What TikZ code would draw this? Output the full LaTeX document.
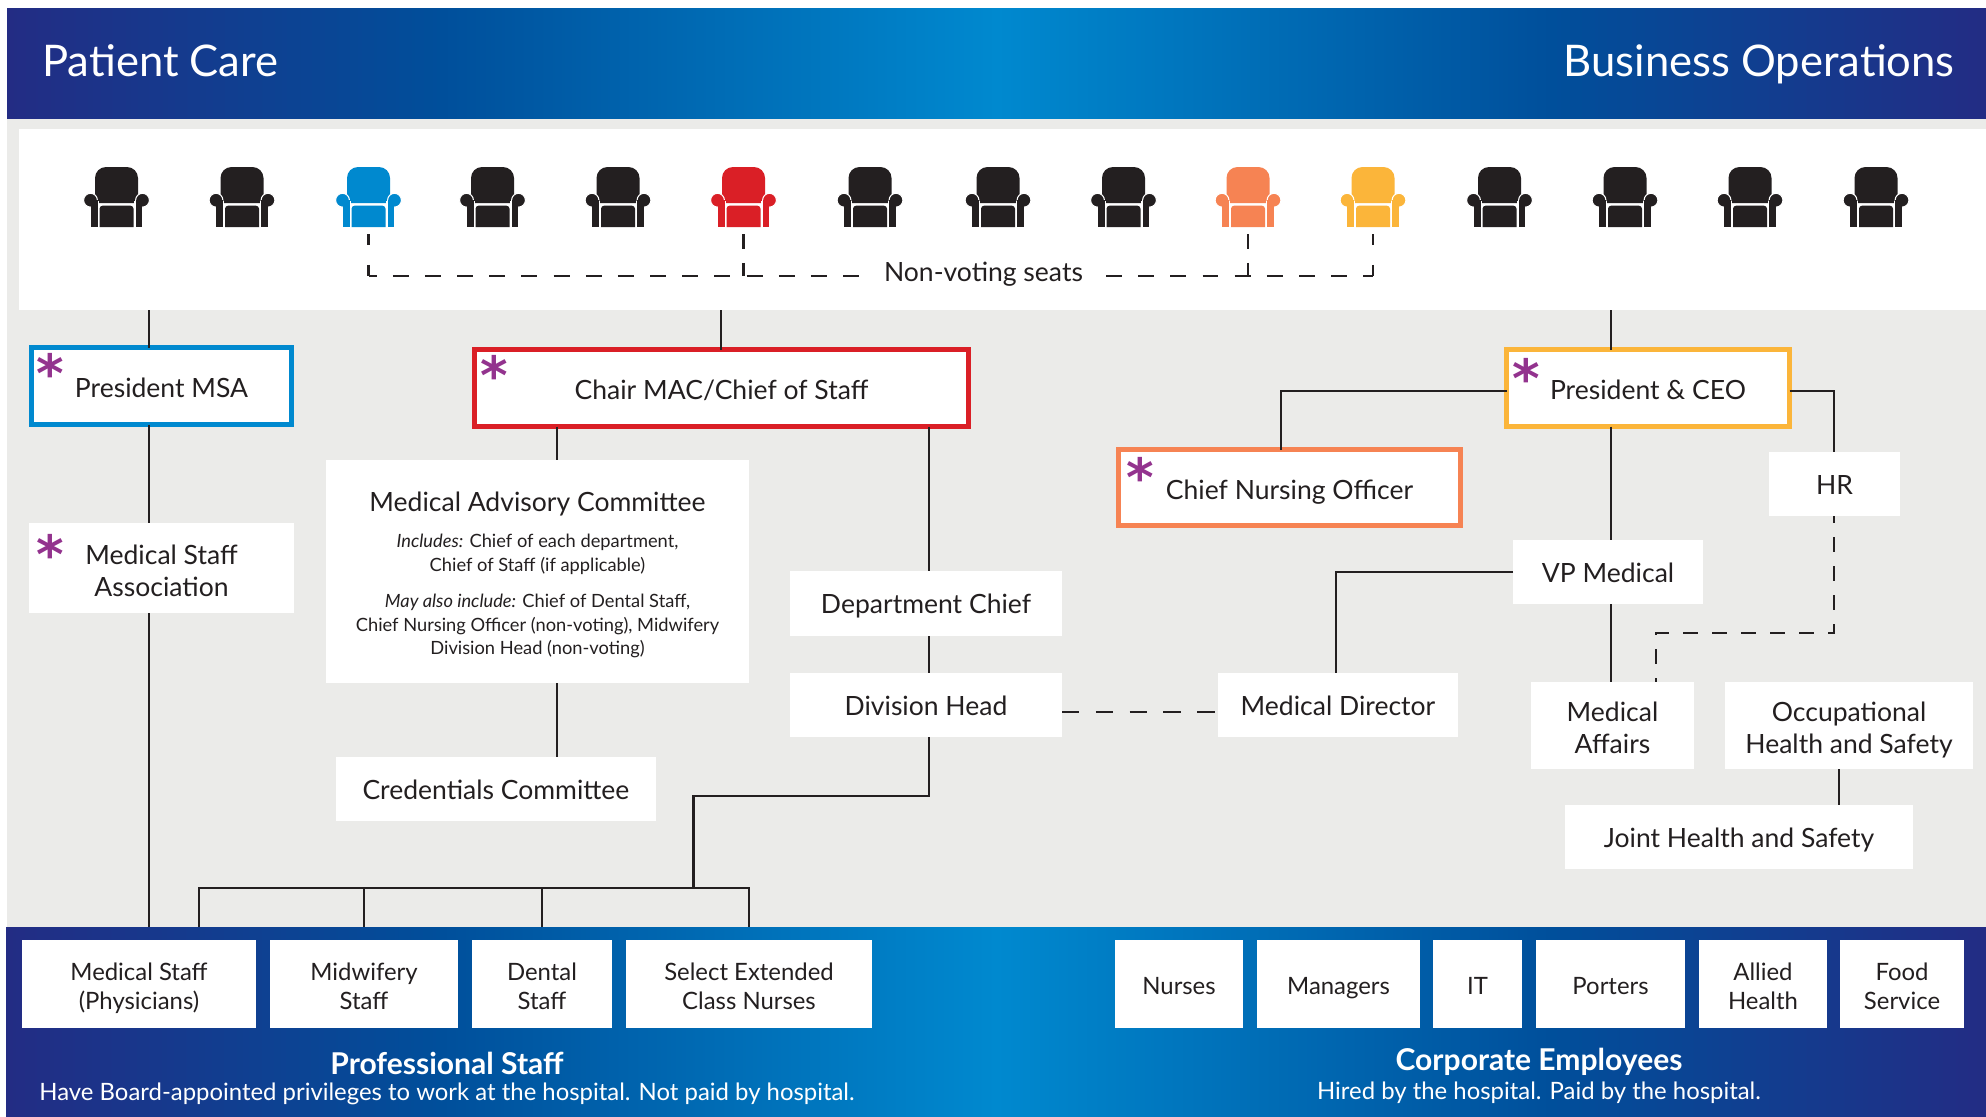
\documentclass[tikz,border=0pt]{standalone}
\usepackage{fontspec}
\usepackage{xcolor}
\setmainfont{Lato}
\newfontfamily\starfont{DejaVu Sans}
\definecolor{bandA}{HTML}{232C84}
\definecolor{bandB}{HTML}{004F9B}
\definecolor{bandC}{HTML}{0089CF}
\definecolor{wallgray}{HTML}{EBEBE9}
\definecolor{inkblack}{HTML}{231F20}
\definecolor{seatblue}{HTML}{0089CF}
\definecolor{seatred}{HTML}{DA1F26}
\definecolor{seatcoral}{HTML}{F68353}
\definecolor{seatamber}{HTML}{FBB53A}
\definecolor{starpurple}{HTML}{93338E}
\pgfdeclarehorizontalshading{bandshade}{100bp}{color(0bp)=(bandA); color(25bp)=(bandA); color(36bp)=(bandB); color(50bp)=(bandC); color(64bp)=(bandB); color(75bp)=(bandA); color(100bp)=(bandA)}
\newcommand{\macsmall}{\fontsize{10.4}{13.6}\selectfont}
\newcommand{\bandhead}{\fontsize{24.8}{28}\selectfont}
\tikzset{
	wh/.style 2 args={minimum width=#1*0.02cm, minimum height=#2*0.02cm, inner sep=0pt, outer sep=0pt},
	whitebox/.style={fill=white, text=inkblack, align=center, font=\fontsize{15.1}{18.3}\selectfont},
	staffbox/.style={fill=white, text=inkblack, align=center, font=\fontsize{13.6}{16.5}\selectfont},
	oneline/.style={text height=11.6pt, text depth=0pt},
	framedline/.style={text height=13.4pt, text depth=0pt, line width=2.8pt},
	twoline/.style={text height=32.4pt, text depth=0pt},
	stafftwo/.style={text height=28.6pt, text depth=0pt},
	link/.style={draw=inkblack, line width=1.6pt},
	dashlink/.style={draw=inkblack, line width=1.6pt, dash pattern=on 9.07pt off 9.24pt},
	seatlink/.style={draw=inkblack, line width=1.6pt, dash pattern=on 6pt off 11.5pt on 7pt off 9pt},
	seatlinkb/.style={draw=inkblack, line width=1.6pt, dash pattern=on 8.4pt off 8pt on 8pt off 9pt},
	divlink/.style={draw=inkblack, line width=1.6pt, dash pattern=on 9.9pt off 9.35pt},
	hrlink/.style={draw=inkblack, line width=1.6pt, dash pattern=on 8.5pt off 8pt, dash phase=4.3pt},
	bandtext/.style={text=white, inner sep=0pt},
	star/.style={text=starpurple, inner sep=0pt, font=\starfont\bfseries\fontsize{30}{30}\selectfont}
}
% one armchair, #1 name, #2 x, #3 colour
\newcommand{\seatchair}[3]{
	\coordinate (#1) at (#2,197);
	\begin{scope}[shift={(#2,197)}]
		\fill [#3] (-21.5,6) [rounded corners=0.22cm] -- (-21.5,-30) -- (21.5,-30) [sharp corners] -- (21.5,6) -- cycle;
		\fill [#3] (-17,30) [rounded corners=0.06cm] -- (-17,8.7) -- (17,8.7) [sharp corners] -- (17,30) -- cycle;
		\foreach \sgn in {-1,1} {
			\fill [white] (\sgn*19,4) rectangle (\sgn*17.7,30);
			\filldraw [#3, draw=white, line width=0.6pt] (\sgn*26,3.2) circle (6.9);
			\fill [#3] (\sgn*19,3) rectangle (\sgn*25.7,30);
		}
	\end{scope}
}
\begin{document}
\begin{tikzpicture}[x=0.02cm, y=-0.02cm]
	\useasboundingbox (0,0) rectangle (1986,1116);
	% bands and panels
	\node [wh={1979}{809}, fill=wallgray, anchor=north west] (wall) at (7,118) {};
	\node [wh={1979}{110}, shading=bandshade, anchor=north west] (topband) at (7,8) {};
	\node [wh={1980}{189}, shading=bandshade, anchor=north west] (bottomband) at (6,927) {};
	\node [wh={1967}{181}, fill=white, anchor=north west] (seatpanel) at (19,129) {};
	\node [bandtext, anchor=base west, font=\bandhead] (patientcare) at (42,76) {Patient Care};
	\node [bandtext, anchor=base east, font=\bandhead] (businessops) at (1955,76) {Business Operations};

	% seats
	\seatchair{seata}{116.5}{inkblack}
	\seatchair{seatb}{242}{inkblack}
	\seatchair{seatc}{368.5}{seatblue}
	\seatchair{seatd}{492.5}{inkblack}
	\seatchair{seate}{618}{inkblack}
	\seatchair{seatf}{743.5}{seatred}
	\seatchair{seatg}{870}{inkblack}
	\seatchair{seath}{998}{inkblack}
	\seatchair{seati}{1123.5}{inkblack}
	\seatchair{seatj}{1248}{seatcoral}
	\seatchair{seatk}{1373}{seatamber}
	\seatchair{seatl}{1499.5}{inkblack}
	\seatchair{seatm}{1625}{inkblack}
	\seatchair{seatn}{1750}{inkblack}
	\seatchair{seato}{1876}{inkblack}
	\node [text=inkblack, inner sep=0pt, font=\fontsize{15.1}{18}\selectfont] (nonvoting) at (983.5,274.5) {Non-voting seats};

	% boxes
	\node [whitebox, framedline, wh={260}{77}, draw=seatblue] (presmsa) at (161.5,386) {President MSA};
	\node [whitebox, framedline, wh={494}{77}, draw=seatred] (chairmac) at (721.5,388) {Chair MAC/Chief of Staff};
	\node [whitebox, framedline, wh={283}{77}, draw=seatamber] (ceo) at (1648,388) {President \& CEO};
	\node [whitebox, framedline, wh={342}{76}, draw=seatcoral] (cno) at (1289.5,487.5) {Chief Nursing Officer};
	\node [whitebox, twoline, wh={265}{90}] (msassoc) at (161.5,568) {Medical Staff\\Association};
	\node [whitebox, font=\macsmall, text height=95pt, text depth=0pt, wh={423}{223}] (mac) at (537.5,571.5) {{\fontsize{15.1}{18}\selectfont Medical Advisory Committee}\\[6.8pt]
		{\itshape Includes:} Chief of each department,\\
		Chief of Staff (if applicable)\\[6.8pt]
		{\itshape May also include:} Chief of Dental Staff,\\
		Chief Nursing Officer (non-voting), Midwifery\\
		Division Head (non-voting)};
	\node [whitebox, oneline, wh={320}{64}] (credentials) at (496,789) {Credentials Committee};
	\node [whitebox, oneline, wh={272}{65}] (deptchief) at (926,603.5) {Department Chief};
	\node [whitebox, oneline, wh={272}{64}] (divhead) at (926,705) {Division Head};
	\node [whitebox, oneline, wh={240}{64}] (meddir) at (1338,705) {Medical Director};
	\node [whitebox, oneline, wh={190}{64}] (vpmed) at (1608,572) {VP Medical};
	\node [whitebox, oneline, wh={131}{64}] (hr) at (1834.5,484) {HR};
	\node [whitebox, twoline, wh={163}{87}] (medaffairs) at (1612.5,725.5) {Medical\\Affairs};
	\node [whitebox, twoline, wh={248}{87}] (occhealth) at (1849,725.5) {Occupational\\Health and Safety};
	\node [whitebox, oneline, wh={348}{64}] (joint) at (1739,837) {Joint Health and Safety};

	% staff boxes
	\node [staffbox, stafftwo, wh={234}{88}] (medstaff) at (139,984) {Medical Staff\\(Physicians)};
	\node [staffbox, stafftwo, wh={188}{88}] (midwifery) at (364,984) {Midwifery\\Staff};
	\node [staffbox, stafftwo, wh={140}{88}] (dental) at (542,984) {Dental\\Staff};
	\node [staffbox, stafftwo, wh={246}{88}] (extended) at (749,984) {Select Extended\\Class Nurses};
	\node [staffbox, oneline, wh={128}{88}] (nurses) at (1179,984) {Nurses};
	\node [staffbox, oneline, wh={163}{88}] (managers) at (1338.5,984) {Managers};
	\node [staffbox, oneline, wh={89}{88}] (itstaff) at (1477.5,984) {IT};
	\node [staffbox, oneline, wh={149}{88}] (porters) at (1610.5,984) {Porters};
	\node [staffbox, stafftwo, wh={128}{88}] (allied) at (1763,984) {Allied\\Health};
	\node [staffbox, stafftwo, wh={124}{88}] (food) at (1902,984) {Food\\Service};
	\node [bandtext, font=\bfseries\fontsize{17.1}{20}\selectfont] (profstaff) at (447,1063) {Professional Staff};
	\node [bandtext, font=\fontsize{13.6}{16}\selectfont] (profnote) at (447,1094) {Have Board-appointed privileges to work at the hospital. Not paid by hospital.};
	\node [bandtext, font=\bfseries\fontsize{17.1}{20}\selectfont] (corpstaff) at (1539,1062) {Corporate Employees};
	\node [bandtext, font=\fontsize{13.6}{16}\selectfont] (corpnote) at (1539,1093) {Hired by the hospital. Paid by the hospital.};

	% stars
	\node [star] (stara) at (50,373) {*};
	\node [star] (starb) at (494,375) {*};
	\node [star] (starc) at (1140,477) {*};
	\node [star] (stard) at (1526,378) {*};
	\node [star] (stare) at (50,554) {*};

	% column and row positions for the lines
	\coordinate (xmsa) at (149,0);
	\coordinate (xbus) at (199,0);
	\coordinate (xmac) at (557,0);
	\coordinate (xfork) at (693.5,0);
	\coordinate (xchair) at (721,0);
	\coordinate (xdashl) at (860,0);
	\coordinate (xdashr) at (1106,0);
	\coordinate (xdept) at (929,0);
	\coordinate (xcno) at (1281,0);
	\coordinate (xdir) at (1336,0);
	\coordinate (xceo) at (1611,0);
	\coordinate (xaff) at (1656,0);
	\coordinate (xhr) at (1834,0);
	\coordinate (xjoint) at (1839,0);
	\coordinate (yseattop) at (0,234);
	\coordinate (yseat) at (0,276);
	\coordinate (yceo) at (0,391);
	\coordinate (yvp) at (0,572);
	\coordinate (yhr) at (0,633);
	\coordinate (ydiv) at (0,712);
	\coordinate (ystep) at (0,796);
	\coordinate (ybus) at (0,888);

	% solid lines
	\draw [link] (seatpanel.south -| xmsa) -- (presmsa.north -| xmsa);
	\draw [link] (presmsa.south -| xmsa) -- (msassoc.north -| xmsa);
	\draw [link] (msassoc.south -| xmsa) -- (bottomband.north -| xmsa);
	\draw [link] (seatpanel.south -| xchair) -- (chairmac.north -| xchair);
	\draw [link] (chairmac.south -| xmac) -- (mac.north -| xmac);
	\draw [link] (mac.south -| xmac) -- (credentials.north -| xmac);
	\draw [link] (chairmac.south -| xdept) -- (deptchief.north -| xdept);
	\draw [link] (deptchief.south -| xdept) -- (divhead.north -| xdept);
	\draw [link] (divhead.south -| xdept) -- (xdept |- ystep) -- (xfork |- ystep) -- (xfork |- ybus);
	\draw [link] (bottomband.north -| xbus) -- (xbus |- ybus) -- (extended.north |- ybus) -- (bottomband.north -| extended.north);
	\draw [link] (midwifery.north |- ybus) -- (bottomband.north -| midwifery.north);
	\draw [link] (dental.north |- ybus) -- (bottomband.north -| dental.north);
	\draw [link] (seatpanel.south -| xceo) -- (ceo.north -| xceo);
	\draw [link] (ceo.south -| xceo) -- (vpmed.north -| xceo);
	\draw [link] (vpmed.south -| xceo) -- (medaffairs.north -| xceo);
	\draw [link] (ceo.west |- yceo) -- (xcno |- yceo) -- (cno.north -| xcno);
	\draw [link] (ceo.east |- yceo) -- (xhr |- yceo) -- (hr.north -| xhr);
	\draw [link] (vpmed.west |- yvp) -- (xdir |- yvp) -- (meddir.north -| xdir);
	\draw [link] (occhealth.south -| xjoint) -- (joint.north -| xjoint);

	% dashed lines
	\draw [seatlink] (seatc |- yseattop) -- (seatc |- yseat);
	\draw [dashlink, dash phase=4.5pt] (seatc |- yseat) -- (xdashl |- yseat);
	\draw [seatlinkb] (seatf |- yseattop) -- (seatf |- yseat);
	\draw [seatlinkb] (seatj |- yseattop) -- (seatj |- yseat);
	\draw [seatlink] (seatk |- yseattop) -- (seatk |- yseat);
	\draw [dashlink] (xdashr |- yseat) -- (seatk |- yseat);
	\draw [divlink] (divhead.east |- ydiv) -- (meddir.west |- ydiv);
	\draw [hrlink] (hr.south -| xhr) -- (xhr |- yhr) -- (xaff |- yhr) -- (medaffairs.north -| xaff);
\end{tikzpicture}
\end{document}
